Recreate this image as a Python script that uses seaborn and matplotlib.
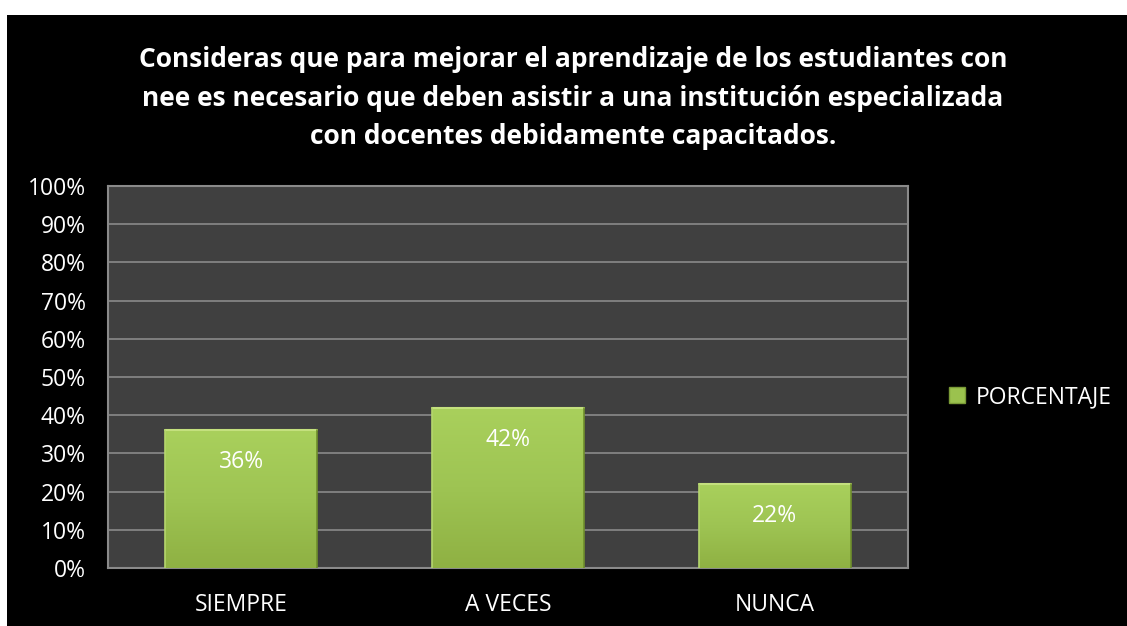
import matplotlib
matplotlib.use("Agg")
import matplotlib.pyplot as plt
import seaborn as sns
import numpy as np
import pandas as pd
from matplotlib.patches import Rectangle
from matplotlib.lines import Line2D
from matplotlib.colors import LinearSegmentedColormap

categories = ["SIEMPRE", "A VECES", "NUNCA"]
values = [36, 42, 22]
labels = ["36%", "42%", "22%"]
yticks = [0, 10, 20, 30, 40, 50, 60, 70, 80, 90, 100]
series_name = "PORCENTAJE"
title = ("Consideras que para mejorar el aprendizaje de los estudiantes con\n"
         "nee es necesario que deben asistir a una institución especializada\n"
         "con docentes debidamente capacitados.")

sns.set_theme(style="dark")
plt.rcParams['font.family'] = ['Open Sans', 'DejaVu Sans']

df = pd.DataFrame({"cat": categories, "val": values})

fig = plt.figure(figsize=(11.27, 6.26), dpi=100, facecolor="white")
fig.patches.append(Rectangle((7/1127, 0), 1, 1 - 15/626, transform=fig.transFigure,
                             facecolor="black", edgecolor="none", zorder=-10))
ax = fig.add_axes([108/1127, 58/626, 800/1127, 382/626])
ax.set_facecolor("#404040")

sns.barplot(data=df, x="cat", y="val", color="#9bc24e", width=0.57, ax=ax,
            saturation=1, zorder=3, edgecolor="none")

cmap = LinearSegmentedColormap.from_list("g", ["#a9d05c", "#9ec453", "#8fb143"])
grad = np.linspace(0, 1, 100).reshape(-1, 1)
for p in ax.patches:
    x0, y0 = p.get_x(), p.get_y()
    w, h = p.get_width(), p.get_height()
    im = ax.imshow(grad, extent=[x0, x0 + w, y0, y0 + h], cmap=cmap, aspect="auto",
                   origin="upper", zorder=4)
    im.set_clip_path(p)
    # bevel edges
    ax.plot([x0, x0 + w], [y0 + h, y0 + h], color="#c4e07e", lw=1.5, zorder=5)
    ax.plot([x0 + w, x0 + w], [y0, y0 + h], color="#6f8f2c", lw=1.2, zorder=5)
    ax.plot([x0, x0], [y0, y0 + h], color="#b5d66d", lw=1.2, zorder=5)

for i, (v, lab) in enumerate(zip(values, labels)):
    ax.annotate(lab, (i, v), xytext=(0, -23), textcoords="offset points",
                ha="center", va="center", color="white", fontsize=16.5, zorder=6)

ax.set_xlim(-0.5, 2.5)
ax.set_ylim(0, 100)
ax.set_yticks(yticks)
ax.set_yticklabels([f"{t}%" for t in yticks], color="white", fontsize=16.5)
ax.set_xticks(range(len(categories)))
ax.set_xticklabels(categories, color="white", fontsize=16.5)
ax.tick_params(axis="x", pad=18, length=0)
ax.tick_params(axis="y", pad=16, length=0)
ax.set_xlabel("")
ax.set_ylabel("")
ax.grid(axis="y", color="#8a8a8a", lw=1.2, zorder=1)
ax.grid(axis="x", visible=False)
for s in ax.spines.values():
    s.set_visible(True)
    s.set_color("#8a8a8a")
    s.set_linewidth(1.5)

fig.text(573/1127, 1 - 98/626, title, ha="center", va="center", color="white",
         fontsize=19, fontweight="bold", linespacing=1.55)

handle = Line2D([], [], marker="s", linestyle="none", markersize=11,
                markerfacecolor="#9bc24e", markeredgecolor="#7a9a36")
fig.legend([handle], [series_name], loc="center left",
           bbox_to_anchor=(946/1127, 1 - 397/626), frameon=False,
           handlelength=1.0, handletextpad=0.3, borderpad=0, borderaxespad=0,
           labelcolor="white", prop={"size": 16.5})

fig.savefig("out.png", dpi=100, facecolor=fig.get_facecolor())
